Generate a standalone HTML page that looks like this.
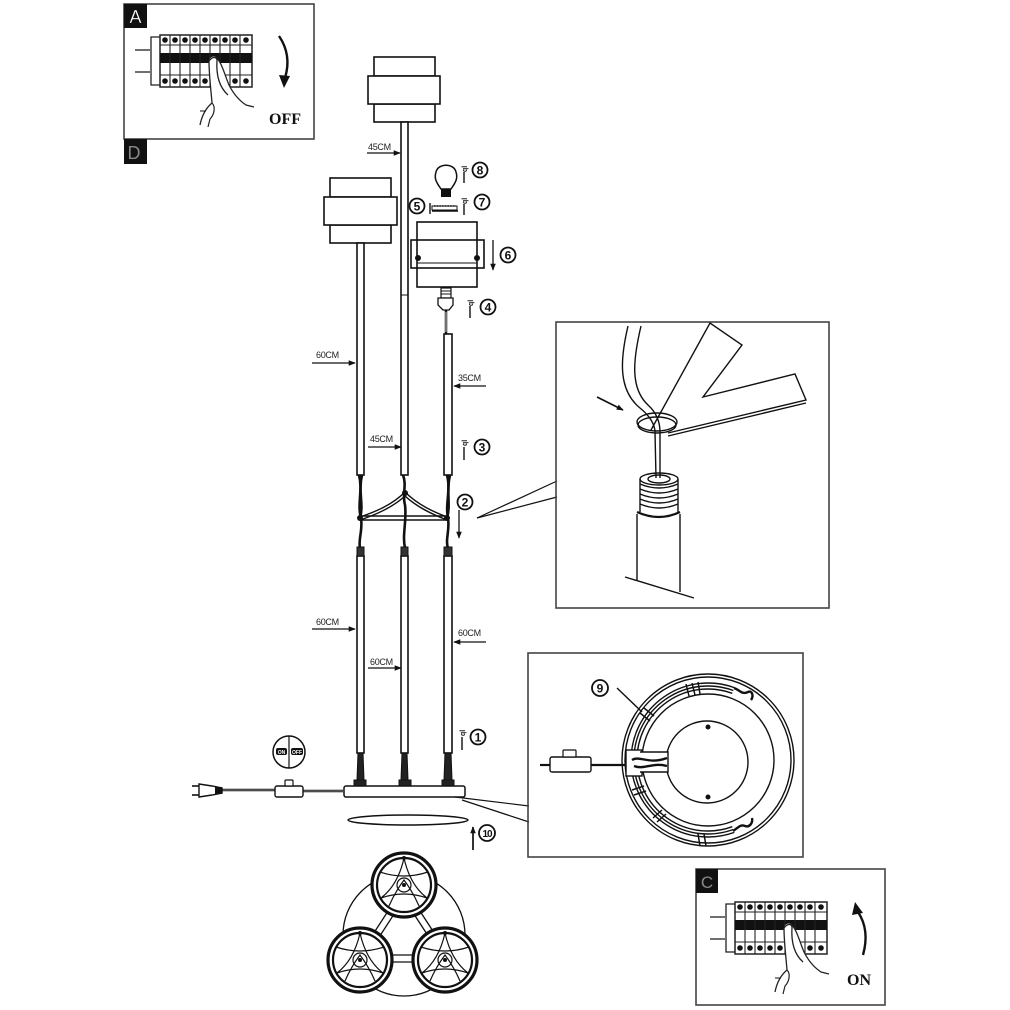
<!DOCTYPE html>
<html><head><meta charset="utf-8"><style>html,body{margin:0;padding:0;background:#fff}svg{display:block}</style></head>
<body>
<svg width="1010" height="1010" viewBox="0 0 1010 1010" xmlns="http://www.w3.org/2000/svg" font-family="Liberation Sans, sans-serif">
<defs>
<marker id="ah" viewBox="0 0 10 10" refX="9" refY="5" markerWidth="7" markerHeight="7" markerUnits="userSpaceOnUse" orient="auto"><path d="M0,1 L10,5 L0,9 Z" fill="#111"/></marker>
<g id="brk">
  <line x1="-15" y1="15" x2="0" y2="15" stroke="#222" stroke-width="1.3"/>
  <line x1="-15" y1="37" x2="0" y2="37" stroke="#222" stroke-width="1.3"/>
  <path d="M10 2 L1 2 L1 50 L10 50" fill="none" stroke="#222" stroke-width="1.3"/>
  <rect x="10" y="0" width="92" height="52" fill="#fff" stroke="#222" stroke-width="1.5"/>
  <line x1="10" y1="10" x2="102" y2="10" stroke="#222"/>
  <line x1="10" y1="40" x2="102" y2="40" stroke="#222"/>
  <rect x="10" y="18" width="92" height="10" fill="#111"/>
  <g stroke="#222" stroke-width="1.1">
    <line x1="20" y1="0" x2="20" y2="52"/><line x1="30" y1="0" x2="30" y2="52"/><line x1="40" y1="0" x2="40" y2="52"/>
    <line x1="50" y1="0" x2="50" y2="52"/><line x1="60" y1="0" x2="60" y2="52"/><line x1="70" y1="0" x2="70" y2="52"/>
    <line x1="80" y1="0" x2="80" y2="52"/><line x1="90" y1="0" x2="90" y2="52"/>
  </g>
  <g fill="#111">
    <circle cx="15" cy="5" r="2.8"/><circle cx="25" cy="5" r="2.8"/><circle cx="35" cy="5" r="2.8"/><circle cx="45" cy="5" r="2.8"/><circle cx="55" cy="5" r="2.8"/><circle cx="65" cy="5" r="2.8"/><circle cx="75" cy="5" r="2.8"/><circle cx="85" cy="5" r="2.8"/><circle cx="96" cy="5" r="2.8"/>
    <circle cx="15" cy="46" r="2.8"/><circle cx="25" cy="46" r="2.8"/><circle cx="35" cy="46" r="2.8"/><circle cx="45" cy="46" r="2.8"/><circle cx="55" cy="46" r="2.8"/><circle cx="85" cy="46" r="2.8"/><circle cx="96" cy="46" r="2.8"/>
  </g>
  <path d="M59 26 C60 21 66 20 67 24 C72 30 74 38 79 50 C84 60 90 66 96 70 L104 72 L100 90 L50 92 C52 80 56 73 62 68 C61 55 59 40 59 26 Z" fill="#fff" stroke="none"/>
  <path d="M66 22 C72 28 74 38 79 50 C84 60 90 66 96 70 L104 72" fill="none" stroke="#222" stroke-width="1.3"/>
  <path d="M59 26 C62 22 66 21 67 25 C66 40 69 52 78 60" fill="none" stroke="#222" stroke-width="1.3"/>
  <path d="M59 26 C59 40 61 55 62 68 C56 73 52 80 50 90" fill="none" stroke="#222" stroke-width="1.3"/>
  <path d="M62 68 C66 72 64 80 60 84 L58 92" fill="none" stroke="#222" stroke-width="1.2"/>
  <path d="M56 76 L50 76" fill="none" stroke="#222" stroke-width="1.1"/>
</g>
</defs>

<!-- Box A -->
<rect x="124" y="4" width="190" height="135" fill="#fff" stroke="#444" stroke-width="1.6"/>
<rect x="124" y="4" width="23" height="24" fill="#111"/>
<text x="135.5" y="23" font-size="18" fill="#fff" text-anchor="middle" stroke="#111" stroke-width="0.3">A</text>
<rect x="124" y="139" width="23" height="25" fill="#111"/>
<text x="134" y="159" font-size="18" fill="#888" text-anchor="middle">D</text>
<use href="#brk" x="150" y="35"/>
<path d="M279 36 Q292 55 285 78" fill="none" stroke="#111" stroke-width="2.4"/>
<path d="M279 75 L290 76 L284 88 Z" fill="#111"/>
<text x="285" y="124" font-size="16" font-weight="bold" font-family="Liberation Serif, serif" text-anchor="middle" fill="#111">OFF</text>

<!-- Box C -->
<rect x="696" y="869" width="189" height="136" fill="#fff" stroke="#444" stroke-width="1.6"/>
<rect x="696" y="869" width="22" height="24" fill="#111"/>
<text x="707" y="888" font-size="17" fill="#888" text-anchor="middle">C</text>
<use href="#brk" x="725" y="902"/>
<path d="M863 955 Q870 930 858 912" fill="none" stroke="#111" stroke-width="2.4"/>
<path d="M852 915 L863 913 L855 902 Z" fill="#111"/>
<text x="859" y="985" font-size="16" font-weight="bold" font-family="Liberation Serif, serif" text-anchor="middle" fill="#111">ON</text>

<g stroke="#111" stroke-width="1.6" fill="#fff">
<!-- top shade -->
<rect x="374" y="57" width="61" height="19"/>
<rect x="374" y="104" width="61" height="18"/>
<rect x="368" y="76" width="72" height="28"/>
<!-- left shade -->
<rect x="330" y="178" width="61" height="19"/>
<rect x="330" y="225" width="61" height="18"/>
<rect x="324" y="197" width="73" height="28"/>
<!-- upper rods -->
<rect x="401" y="122" width="7" height="353"/>
<rect x="357" y="243" width="7" height="232"/>
<rect x="444" y="334" width="8" height="141"/>
<!-- lower rods -->
<rect x="357" y="556" width="7" height="197"/>
<rect x="401" y="556" width="7" height="197"/>
<rect x="444" y="556" width="8" height="197"/>
<!-- shade holder -->
<rect x="417" y="222" width="60" height="65"/>
<rect x="411" y="240" width="73" height="28" fill="none"/>
</g>
<line x1="401" y1="295" x2="408" y2="295" stroke="#111" stroke-width="1"/>
<line x1="417" y1="263" x2="477" y2="263" stroke="#111" stroke-width="1"/>
<circle cx="418" cy="258" r="3" fill="#111"/>
<circle cx="477" cy="258" r="3" fill="#111"/>

<!-- bulb -->
<path d="M441 189 C436 182 434 178 436 172 C438 163 454 163 456 172 C458 178 456 182 451 189 Z" fill="#fff" stroke="#111" stroke-width="1.5"/>
<rect x="441" y="189" width="10" height="8" fill="#111"/>
<!-- plate -->
<rect x="432" y="206" width="25" height="4" fill="#fff" stroke="#111" stroke-width="1"/>
<line x1="432" y1="211" x2="458" y2="211" stroke="#111" stroke-width="1.4"/>
<line x1="434" y1="206" x2="456" y2="206" stroke="#111" stroke-width="1.6" stroke-dasharray="1.5 1.2"/>
<!-- socket -->
<rect x="441" y="288" width="10" height="10" fill="#fff" stroke="#111" stroke-width="1.2"/>
<line x1="441" y1="291" x2="451" y2="291" stroke="#111"/><line x1="441" y1="294" x2="451" y2="294" stroke="#111"/>
<path d="M438 298 L453 298 L453 305 L449 310 L443 310 L438 305 Z" fill="#fff" stroke="#111" stroke-width="1.3"/>
<line x1="446" y1="310" x2="446" y2="334" stroke="#111" stroke-width="2.5"/>
<line x1="446" y1="312" x2="446" y2="332" stroke="#fff" stroke-width="0.8"/>

<!-- twisted cable section -->
<g stroke="#111" stroke-width="2.6" fill="none">
<path d="M359 475 C363 490 357 505 361 518 C363 530 358 540 360 548"/>
<path d="M362 475 C358 492 364 505 360 518"/>
<path d="M403 475 C407 485 402 495 405 505 C407 520 402 535 405 548"/>
<path d="M447 475 C451 490 445 505 448 518 C450 530 445 540 448 548"/>
<path d="M450 475 C446 492 451 505 447 518"/>
</g>
<g stroke="#111" stroke-width="1.4" fill="none">
<path d="M405 492 C392 505 375 512 360 517"/>
<path d="M405 496 C392 508 375 515 360 520"/>
<path d="M405 492 C418 505 434 512 447 517"/>
<path d="M405 496 C418 508 434 515 447 520"/>
<line x1="360" y1="516" x2="447" y2="516"/>
<line x1="360" y1="520" x2="447" y2="520"/>
</g>
<circle cx="360" cy="518" r="3" fill="#111"/>
<circle cx="447" cy="518" r="3" fill="#111"/>
<circle cx="405" cy="493" r="3" fill="#111"/>
<!-- connectors -->
<g fill="#333" stroke="#111">
<rect x="357" y="547" width="7" height="9"/>
<rect x="401" y="547" width="7" height="9"/>
<rect x="444" y="547" width="8" height="9"/>
</g>
<!-- lower dark cable -->
<g fill="#222" stroke="#111">
<path d="M358 753 L363 753 L364 780 L357 780 Z"/>
<path d="M402 753 L407 753 L408 780 L401 780 Z"/>
<path d="M445 753 L451 753 L452 780 L444 780 Z"/>
<rect x="354" y="780" width="12" height="6"/>
<rect x="399" y="780" width="12" height="6"/>
<rect x="442" y="780" width="12" height="6"/>
</g>
<!-- base -->
<rect x="344" y="786" width="121" height="11" rx="2" fill="#fff" stroke="#111" stroke-width="1.5"/>
<ellipse cx="408" cy="820" rx="60" ry="5" fill="#fff" stroke="#111" stroke-width="1.5"/>
<line x1="473" y1="850" x2="473" y2="827" stroke="#111" stroke-width="1.7" marker-end="url(#ah)"/>

<!-- cord, switch, plug -->
<line x1="222" y1="790" x2="275" y2="790" stroke="#111" stroke-width="2.4"/>
<line x1="222" y1="790" x2="275" y2="790" stroke="#fff" stroke-width="0.6"/>
<line x1="303" y1="791" x2="344" y2="791" stroke="#111" stroke-width="2.4"/>
<line x1="303" y1="791" x2="344" y2="791" stroke="#fff" stroke-width="0.6"/>
<rect x="275" y="786" width="28" height="11" rx="2" fill="#fff" stroke="#111" stroke-width="1.4"/>
<rect x="285" y="780" width="8" height="6" rx="1" fill="#fff" stroke="#111" stroke-width="1.2"/>
<path d="M199 784 L212 786 L222 788 L222 793 L212 795 L199 797 Z" fill="#fff" stroke="#111" stroke-width="1.4"/>
<rect x="215" y="787" width="7" height="7" fill="#111"/>
<line x1="192" y1="786" x2="199" y2="786" stroke="#111" stroke-width="1.6"/>
<line x1="192" y1="795" x2="199" y2="795" stroke="#111" stroke-width="1.6"/>
<circle cx="289" cy="752" r="16" fill="#fff" stroke="#111" stroke-width="1.5"/>
<line x1="289" y1="736" x2="289" y2="768" stroke="#111" stroke-width="1.2"/>
<rect x="276" y="748" width="11" height="7" rx="2" fill="#111"/>
<rect x="291" y="748" width="12" height="7" rx="2" fill="#111"/>
<text x="281.5" y="754" font-size="5" fill="#fff" text-anchor="middle" font-weight="bold">ON</text>
<text x="297" y="754" font-size="5" fill="#fff" text-anchor="middle" font-weight="bold">OFF</text>

<!-- dimension labels -->
<g font-size="9" fill="#222" letter-spacing="-0.3">
<text x="368" y="150">45CM</text>
<text x="316" y="358">60CM</text>
<text x="458" y="381">35CM</text>
<text x="370" y="442">45CM</text>
<text x="316" y="625">60CM</text>
<text x="370" y="665">60CM</text>
<text x="458" y="636">60CM</text>
</g>
<g stroke="#111" stroke-width="1.3">
<line x1="367" y1="153" x2="400" y2="153" marker-end="url(#ah)"/>
<line x1="312" y1="363" x2="355" y2="363" marker-end="url(#ah)"/>
<line x1="486" y1="386" x2="454" y2="386" marker-end="url(#ah)"/>
<line x1="368" y1="447" x2="401" y2="447" marker-end="url(#ah)"/>
<line x1="312" y1="629" x2="355" y2="629" marker-end="url(#ah)"/>
<line x1="368" y1="668" x2="401" y2="668" marker-end="url(#ah)"/>
<line x1="486" y1="642" x2="454" y2="642" marker-end="url(#ah)"/>
<line x1="459" y1="510" x2="459" y2="538" marker-end="url(#ah)"/>
<line x1="493" y1="240" x2="493" y2="270" marker-end="url(#ah)"/>
</g>

<!-- small "ql" annotations -->
<g stroke="#111" stroke-width="1.4" fill="#111">
<line x1="464" y1="172" x2="464" y2="183"/><line x1="464" y1="204" x2="464" y2="215"/>
<line x1="470" y1="306" x2="470" y2="318"/><line x1="464" y1="447" x2="464" y2="460"/>
<line x1="462" y1="737" x2="462" y2="750"/><line x1="430" y1="203" x2="430" y2="214"/>
</g>
<g font-size="7" fill="#111" font-weight="bold">
<text transform="translate(467,172) rotate(-90)">ql</text>
<text transform="translate(467,204) rotate(-90)">ql</text>
<text transform="translate(473,306) rotate(-90)">ql</text>
<text transform="translate(467,446) rotate(-90)">ql</text>
<text transform="translate(465,736) rotate(-90)">ql</text>
</g>

<!-- circled numbers -->
<g fill="#fff" stroke="#111" stroke-width="1.8">
<circle cx="480" cy="170" r="7.5"/><circle cx="482" cy="202" r="7.5"/><circle cx="417" cy="206" r="7.5"/>
<circle cx="508" cy="255" r="7.5"/><circle cx="488" cy="307" r="7.5"/><circle cx="482" cy="447" r="7.5"/>
<circle cx="465" cy="502" r="7.5"/><circle cx="478" cy="737" r="7.5"/><circle cx="487" cy="833" r="8"/>
<circle cx="600" cy="688" r="8"/>
</g>
<g font-size="12" font-weight="bold" fill="#111" text-anchor="middle">
<text x="480" y="174.5">8</text><text x="482" y="206.5">7</text><text x="417" y="210.5">5</text>
<text x="508" y="259.5">6</text><text x="488" y="311.5">4</text><text x="482" y="451.5">3</text>
<text x="465" y="506.5">2</text><text x="478" y="741.5">1</text><text x="487" y="837" font-size="10" letter-spacing="-1">10</text>
<text x="600" y="692.5">9</text>
</g>

<!-- top right inset -->
<line x1="477" y1="518" x2="557" y2="481" stroke="#111" stroke-width="1.2"/>
<line x1="477" y1="518" x2="557" y2="497" stroke="#111" stroke-width="1.2"/>
<rect x="556" y="322" width="273" height="286" fill="none" stroke="#444" stroke-width="1.6"/>
<g stroke="#111" stroke-width="1.4" fill="none">
<path d="M651 430 L710 323 L742 345 L703 397 L795 374 L806 400 L668 433"/>
<path d="M806 403 L668 436"/>
<ellipse cx="657" cy="422" rx="20" ry="9"/>
<ellipse cx="657" cy="425" rx="19" ry="8"/>
<path d="M628 326 C620 360 618 390 640 408 C650 416 655 425 655 432"/>
<path d="M641 326 C633 360 630 388 648 405 C658 414 660 424 660 432"/>
<path d="M655 432 L656 478"/><path d="M660 432 L660 478"/>
<ellipse cx="659" cy="479" rx="19" ry="6"/>
<ellipse cx="659" cy="479" rx="11" ry="4"/>
<path d="M640 484 Q659 492 678 484"/><path d="M640 489 Q659 497 678 489"/><path d="M640 494 Q659 502 678 494"/>
<path d="M640 499 Q659 507 678 499"/><path d="M640 504 Q659 512 678 504"/>
<line x1="640" y1="479" x2="640" y2="512"/><line x1="678" y1="479" x2="678" y2="512"/>
<path d="M637 512 Q659 522 680 512" stroke-width="2.2"/>
<line x1="637" y1="514" x2="637" y2="580"/><line x1="680" y1="514" x2="680" y2="592"/>
<line x1="625" y1="577" x2="694" y2="598"/>
</g>
<line x1="597" y1="397" x2="623" y2="410" stroke="#111" stroke-width="1.7" marker-end="url(#ah)"/>

<!-- bottom right inset -->
<line x1="455" y1="797" x2="529" y2="806" stroke="#111" stroke-width="1.2"/>
<line x1="462" y1="800" x2="529" y2="822" stroke="#111" stroke-width="1.2"/>
<rect x="528" y="653" width="275" height="204" fill="none" stroke="#444" stroke-width="1.6"/>
<g stroke="#111" stroke-width="1.4" fill="none">
<circle cx="708" cy="760" r="86"/>
<circle cx="708" cy="760" r="83"/>
<circle cx="708" cy="760" r="66"/>
<circle cx="707" cy="762" r="41"/>
<path d="M734.3 687.6 A77 77 0 1 0 734.3 832.4"/>
<path d="M733.3 690.5 A74 74 0 1 0 733.3 829.5"/>
<path d="M732.3 693.3 A71 71 0 1 0 732.3 826.7"/>
<path d="M734 688 C740 690 742 695 748 692 C752 690 754 696 751 700" stroke-width="2.4"/>
<path d="M733 831 C738 828 740 824 745 826 C750 828 753 822 752 818" stroke-width="2.4"/>
<line x1="540" y1="765" x2="550" y2="765" stroke-width="2.2"/>
<line x1="591" y1="765" x2="628" y2="765" stroke-width="2.2"/>
<line x1="617" y1="688" x2="642" y2="712"/>
</g>
<rect x="550" y="757" width="41" height="15" rx="2" fill="#fff" stroke="#111" stroke-width="1.4"/>
<rect x="563" y="750" width="13" height="7" rx="1" fill="#fff" stroke="#111" stroke-width="1.2"/>
<rect x="626" y="750" width="16" height="26" fill="#fff" stroke="#111" stroke-width="1.4"/>
<path d="M640 752 L668 752 L668 772 L640 772" fill="#fff" stroke="#111" stroke-width="1.4"/>
<path d="M632 760 C640 755 648 765 667 758 M634 766 C645 770 652 762 667 766" fill="none" stroke="#111" stroke-width="2.4"/>
<circle cx="708" cy="727" r="2.5" fill="#111"/>
<circle cx="708" cy="797" r="2.5" fill="#111"/>
<g stroke="#111" stroke-width="1.5">
<line x1="686" y1="684" x2="689" y2="696"/><line x1="692" y1="683" x2="695" y2="695"/><line x1="698" y1="682" x2="700" y2="694"/>
<line x1="644" y1="708" x2="654" y2="716"/><line x1="640" y1="713" x2="650" y2="721"/>
<line x1="632" y1="790" x2="644" y2="786"/><line x1="634" y1="795" x2="646" y2="791"/>
<line x1="653" y1="818" x2="662" y2="810"/><line x1="657" y1="822" x2="666" y2="814"/>
<line x1="698" y1="834" x2="700" y2="846"/><line x1="704" y1="834" x2="706" y2="846"/>
</g>

<!-- bottom three-ring view -->
<g stroke="#111" fill="none">
<circle cx="404" cy="935" r="61" stroke-width="1.3"/>
<line x1="392" y1="905" x2="366" y2="945" stroke-width="1.3"/><line x1="398" y1="908" x2="372" y2="948" stroke-width="1.3"/>
<line x1="410" y1="908" x2="436" y2="948" stroke-width="1.3"/><line x1="416" y1="905" x2="442" y2="945" stroke-width="1.3"/>
<line x1="380" y1="955" x2="425" y2="955" stroke-width="1.3"/><line x1="380" y1="962" x2="425" y2="962" stroke-width="1.3"/>
</g>
<g id="ring">
<circle cx="404" cy="885" r="32" fill="#fff" stroke="#111" stroke-width="3.2"/>
<circle cx="404" cy="885" r="27" fill="#fff" stroke="#111" stroke-width="2.2"/>
<g stroke="#111" stroke-width="1.2" fill="none">
<path d="M404 858 Q410 885 427 898 Q404 890 381 898 Q398 885 404 858 Z"/>
<path d="M380 872 Q404 880 428 872"/>
<path d="M389 906 Q395 892 404 880 Q413 892 419 906"/>
<circle cx="404" cy="885" r="7"/>
</g>
<circle cx="404" cy="885" r="2" fill="#111"/>
<circle cx="404" cy="858" r="2" fill="#111"/>
</g>
<use href="#ring" x="-44" y="75"/>
<use href="#ring" x="41" y="75"/>
</svg>
</body></html>
